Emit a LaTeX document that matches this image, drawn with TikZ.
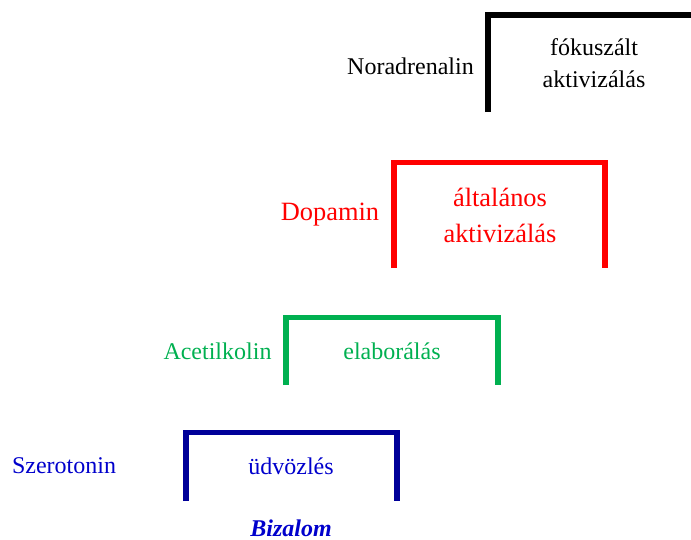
\documentclass[tikz,border=0pt]{standalone}
\usepackage{fontspec}
\setmainfont{Liberation Serif}
\definecolor{myred}{RGB}{255,0,0}
\definecolor{mygreen}{RGB}{0,176,80}
\definecolor{blueline}{RGB}{0,0,153}
\definecolor{bluetext}{RGB}{0,0,204}
\tikzset{
  bracket/.style={line width=5.5pt, line cap=butt, line join=miter},
  lbl/.style={font=\fontsize{24}{32}\selectfont, inner sep=0pt, align=center},
  lblbig/.style={font=\fontsize{26.4}{36}\selectfont, inner sep=0pt, align=center}
}
\begin{document}
\begin{tikzpicture}[x=1pt,y=-1pt]
\useasboundingbox (0,0) rectangle (691,539);
% brackets
\draw[bracket,black] (488,112) -- (488,15) -- (694,15);
\draw[bracket,myred] (394,268) -- (394,162.5) -- (605,162.5) -- (605,268);
\draw[bracket,mygreen] (286,385) -- (286,317.5) -- (498,317.5) -- (498,385);
\draw[bracket,blueline] (186,501) -- (186,432.5) -- (397,432.5) -- (397,501);
% labels
\node[lbl,black] (nor) at (410.5,66) {Noradrenalin};
\node[lbl,black] (fok) at (594,63) {fókuszált\\aktivizálás};
\node[lblbig,myred] (dop) at (330,215) {Dopamin};
\node[lblbig,myred] (alt) at (500,215) {általános\\aktivizálás};
\node[lbl,mygreen] (ace) at (217.5,351) {Acetilkolin};
\node[lbl,mygreen] (ela) at (392,351) {elaborálás};
\node[lbl,bluetext] (sze) at (64,466) {Szerotonin};
\node[lbl,bluetext] (udv) at (291,466) {üdvözlés};
\node[lbl,bluetext,font=\fontsize{24}{32}\selectfont\bfseries\itshape] (biz) at (291,528.5) {Bizalom};
\end{tikzpicture}
\end{document}
